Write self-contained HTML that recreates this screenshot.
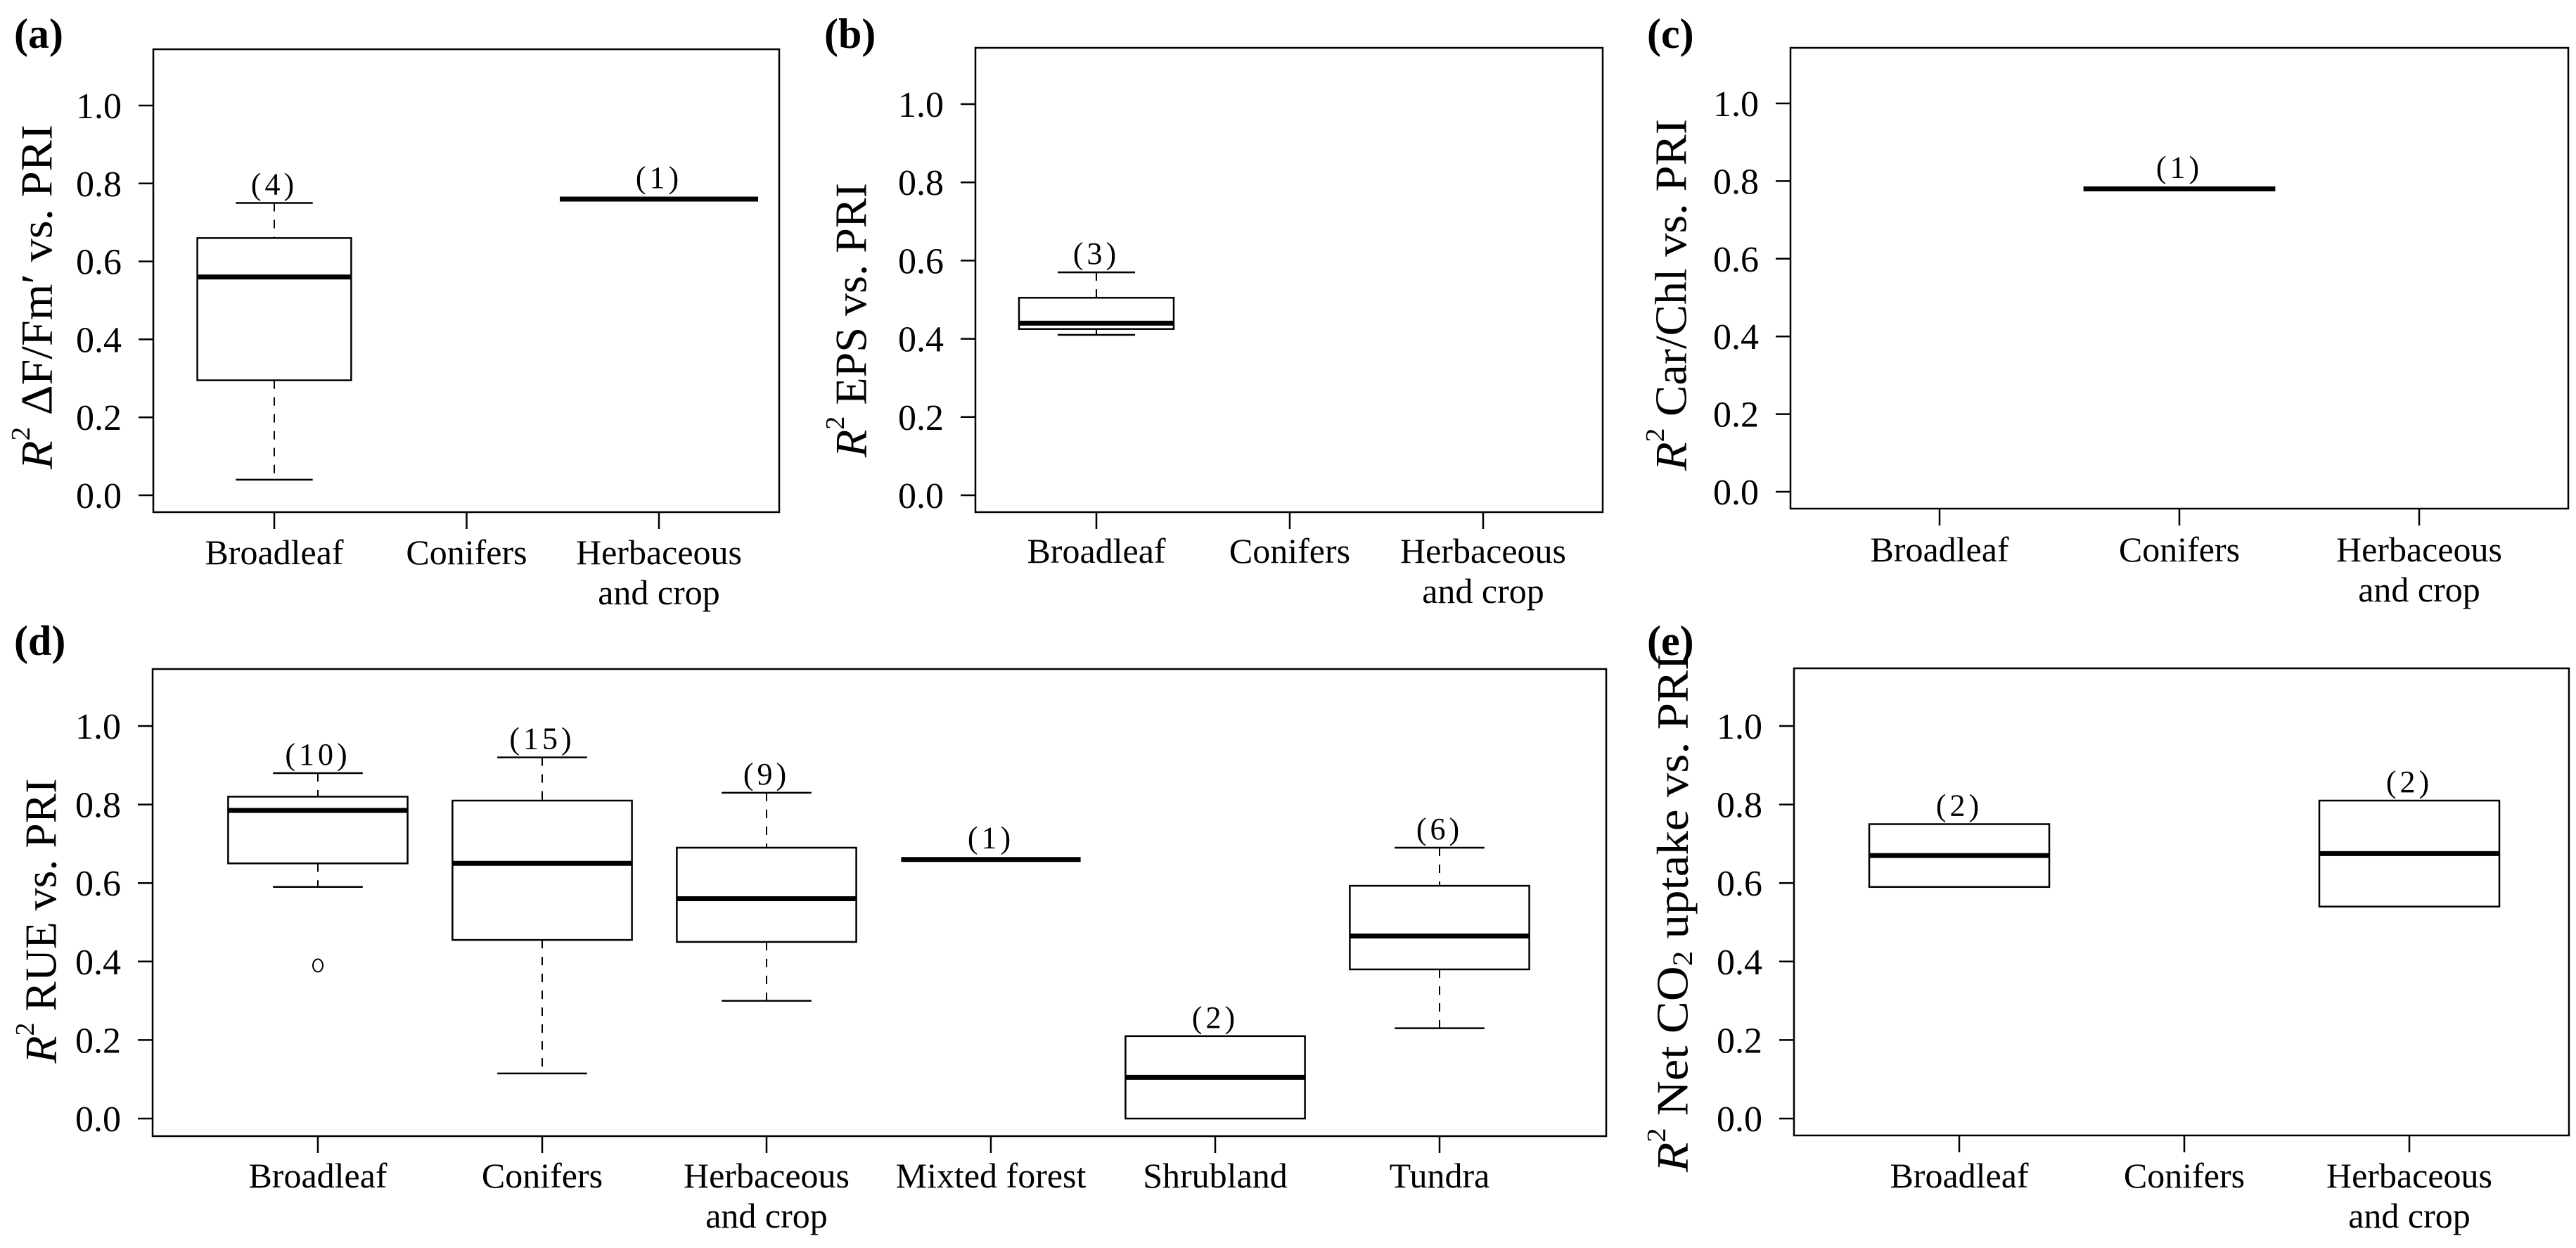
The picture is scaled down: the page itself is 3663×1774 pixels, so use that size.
<!DOCTYPE html>
<html><head><meta charset="utf-8"><style>
html,body{margin:0;padding:0;background:#fff;}
svg{display:block;}
text{font-family:"Liberation Serif",serif;fill:#000;}
</style></head>
<body>
<svg id="fig" xmlns="http://www.w3.org/2000/svg" width="3663" height="1774" viewBox="0 0 3663 1774"></svg>
<script>
// ---- data (stats = [lowWhisker, q1, median, q3, highWhisker]) ----
const catsA = ['Broadleaf', 'Conifers', 'Herbaceous|and crop'];
const statsA = [[0.04, 0.295, 0.56, 0.66, 0.75], null, [0.76, 0.76, 0.76, 0.76, 0.76]];
const countsA = [4, null, 1];
const outA = [[], [], []];

const catsB = ['Broadleaf', 'Conifers', 'Herbaceous|and crop'];
const statsB = [[0.41, 0.425, 0.44, 0.505, 0.57], null, null];
const countsB = [3, null, null];
const outB = [[], [], []];

const catsC = ['Broadleaf', 'Conifers', 'Herbaceous|and crop'];
const statsC = [null, [0.78, 0.78, 0.78, 0.78, 0.78], null];
const countsC = [null, 1, null];
const outC = [[], [], []];

const catsD = ['Broadleaf', 'Conifers', 'Herbaceous|and crop', 'Mixted forest', 'Shrubland', 'Tundra'];
const statsD = [
  [0.59, 0.65, 0.785, 0.82, 0.88],
  [0.115, 0.455, 0.65, 0.81, 0.92],
  [0.30, 0.45, 0.56, 0.69, 0.83],
  [0.66, 0.66, 0.66, 0.66, 0.66],
  [0.0, 0.0, 0.105, 0.21, 0.21],
  [0.23, 0.38, 0.465, 0.593, 0.69]
];
const countsD = [10, 15, 9, 1, 2, 6];
const outD = [[0.39], [], [], [], [], []];

const catsE = ['Broadleaf', 'Conifers', 'Herbaceous|and crop'];
const statsE = [[0.59, 0.59, 0.67, 0.75, 0.75], null, [0.54, 0.54, 0.675, 0.81, 0.81]];
const countsE = [2, null, 2];
const outE = [[], [], []];

const yTicks = [0.0, 0.2, 0.4, 0.6, 0.8, 1.0];
const yTickLabels = ['0.0', '0.2', '0.4', '0.6', '0.8', '1.0'];

const NS = 'http://www.w3.org/2000/svg';
const fig = document.getElementById('fig');
function mk(tag, attrs, parent) {
  const e = document.createElementNS(NS, tag);
  for (const k in attrs) e.setAttribute(k, attrs[k]);
  (parent || fig).appendChild(e);
  return e;
}

function panel(cfg, cats, stats, counts, outs) {
  const g = mk('g', {});
  
  
  const y = v => cfg.y0 + v * (cfg.y1 - cfg.y0);
  const x = i => cfg.x1 + i * cfg.dx;
  const bw = 0.8 * cfg.dx;

  const L = mk('text', {x: cfg.lx, y: cfg.ly, 'font-size': 60, 'font-weight': 'bold'}, g);
  L.textContent = '(' + cfg.id + ')';
  
  

  const fr = mk('rect', {x: cfg.left, y: cfg.top, width: cfg.right - cfg.left, height: cfg.bottom - cfg.top, fill: 'none', stroke: '#000', 'stroke-width': 2.5}, g);
  
  

  yTicks.forEach((t, i) => {
    const tk = mk('line', {x1: cfg.left - 21, x2: cfg.left, y1: y(t), y2: y(t), stroke: '#000', 'stroke-width': 2.5}, g);
    
    
    const tl = mk('text', {x: cfg.left - 45, y: y(t) + 18, 'font-size': 52, 'text-anchor': 'end'}, g);
    tl.textContent = yTickLabels[i];
    
    
  });

  cats.forEach((c, i) => {
    const tk = mk('line', {x1: x(i), x2: x(i), y1: cfg.bottom, y2: cfg.bottom + 24, stroke: '#000', 'stroke-width': 2.5}, g);
    
    
    const parts = c.split('|');
    parts.forEach((p, j) => {
      const tl = mk('text', {x: x(i), y: cfg.lab1 + j * 57, 'font-size': 50, 'text-anchor': 'middle'}, g);
      tl.textContent = p;
      
      
    });
  });

  stats.forEach((s, i) => {
    if (!s) return;
    const cx = x(i);
    const bg = mk('g', {}, g);
    
    
    let topY;
    if (s[1] === s[3]) {
      const w = cfg.singleW || bw;
      mk('line', {x1: cx - w / 2, x2: cx + w / 2, y1: y(s[2]), y2: y(s[2]), stroke: '#000', 'stroke-width': 7}, bg);
      topY = y(s[2]) - 4;
    } else {
      if (s[4] > s[3]) {
        mk('line', {x1: cx, x2: cx, y1: y(s[4]), y2: y(s[3]), stroke: '#000', 'stroke-width': 2, 'stroke-dasharray': '12 12'}, bg);
        mk('line', {x1: cx - bw / 4, x2: cx + bw / 4, y1: y(s[4]), y2: y(s[4]), stroke: '#000', 'stroke-width': 2.5}, bg);
      }
      if (s[0] < s[1]) {
        mk('line', {x1: cx, x2: cx, y1: y(s[1]), y2: y(s[0]), stroke: '#000', 'stroke-width': 2, 'stroke-dasharray': '12 12'}, bg);
        mk('line', {x1: cx - bw / 4, x2: cx + bw / 4, y1: y(s[0]), y2: y(s[0]), stroke: '#000', 'stroke-width': 2.5}, bg);
      }
      mk('rect', {x: cx - bw / 2, y: y(s[3]), width: bw, height: y(s[1]) - y(s[3]), fill: '#fff', stroke: '#000', 'stroke-width': 2.5}, bg);
      mk('line', {x1: cx - bw / 2, x2: cx + bw / 2, y1: y(s[2]), y2: y(s[2]), stroke: '#000', 'stroke-width': 7}, bg);
      topY = y(s[4]);
    }
    (outs[i] || []).forEach(o => {
      const oc = mk('ellipse', {cx: cx, cy: y(o), rx: 7, ry: 9, fill: 'none', stroke: '#000', 'stroke-width': 2}, bg);
      
      
    });
    if (counts[i] != null) {
      const ct = mk('text', {x: cx, y: topY - 12, 'font-size': 44, 'text-anchor': 'middle', 'letter-spacing': 5}, g);
      ct.textContent = '(' + counts[i] + ')';
      
      
    }
  });

  const tt = mk('text', {transform: 'translate(' + cfg.tx + ',' + cfg.tcy + ') rotate(-90)', x: 0, y: 0, 'font-size': 64, 'text-anchor': 'middle', 'dominant-baseline': 'central', textLength: cfg.tlen, lengthAdjust: 'spacingAndGlyphs'}, g);
  
  
  tt.innerHTML = cfg.title;
}

const R2 = '<tspan font-style="italic">R</tspan><tspan font-size="38" dy="-22">2</tspan><tspan dy="22"> </tspan>';
panel({id: 'a', left: 218, right: 1108, top: 70, bottom: 728, y0: 704, y1: 150, x1: 390, dx: 273.5, singleW: 282,
  lx: 20, ly: 68, lab1: 802, tx: 52, tcy: 422, tlen: 490, title: R2 + 'ΔF/Fm′ vs. PRI'}, catsA, statsA, countsA, outA);
panel({id: 'b', left: 1387, right: 2279, top: 68, bottom: 728, y0: 704, y1: 148, x1: 1559, dx: 275,
  lx: 1172, ly: 68, lab1: 800, tx: 1210, tcy: 455, tlen: 390, title: R2 + 'EPS vs. PRI'}, catsB, statsB, countsB, outB);
panel({id: 'c', left: 2546, right: 3652, top: 68, bottom: 723, y0: 699, y1: 147, x1: 2758, dx: 341,
  lx: 2342, ly: 68, lab1: 798, tx: 2376, tcy: 419, tlen: 500, title: R2 + 'Car/Chl vs. PRI'}, catsC, statsC, countsC, outC);
panel({id: 'd', left: 217, right: 2284, top: 951, bottom: 1615, y0: 1590, y1: 1032, x1: 452, dx: 319,
  lx: 20, ly: 931, lab1: 1688, tx: 58, tcy: 1309, tlen: 405, title: R2 + 'RUE vs. PRI'}, catsD, statsD, countsD, outD);
panel({id: 'e', left: 2551, right: 3653, top: 950, bottom: 1614, y0: 1590, y1: 1032, x1: 2786, dx: 320,
  lx: 2342, ly: 931, lab1: 1688, tx: 2378, tcy: 1298, tlen: 736,
  title: R2 + 'Net CO<tspan font-size="40" dy="14">2</tspan><tspan dy="-14"> uptake vs. PRI</tspan>'}, catsE, statsE, countsE, outE);
</script>
</body></html>
